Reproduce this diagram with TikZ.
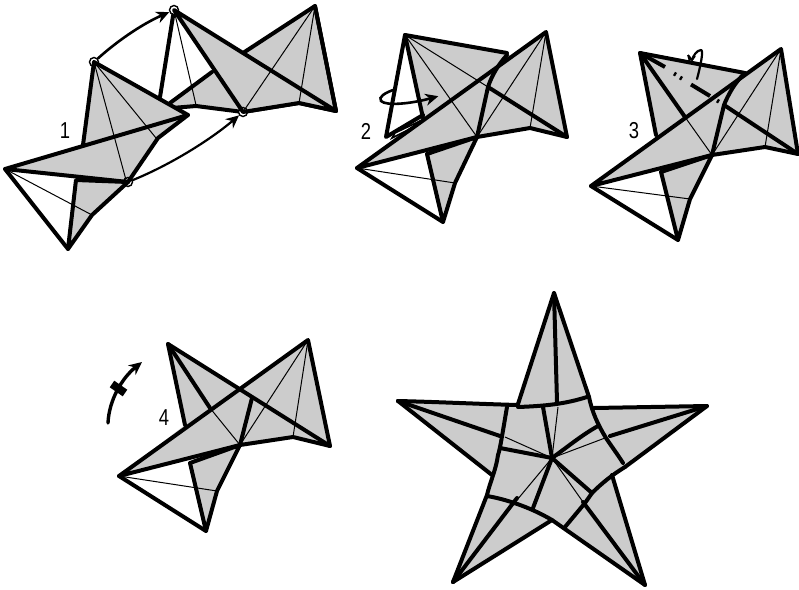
\documentclass[tikz,border=0pt]{standalone}
\usepackage{fontspec}
\setmainfont{Liberation Sans}
\usetikzlibrary{arrows.meta}
\definecolor{papergray}{HTML}{CCCCCC}
\tikzset{
 gry/.style={fill=papergray,draw=none},
 wht/.style={fill=white,draw=none},
 thk/.style={line width=4pt,line join=round,line cap=round},
 thn/.style={line width=1pt},
 mov/.style={line width=2.6pt,-{Stealth[length=13pt,width=12pt]},line cap=round},
 ring/.style={circle,draw,fill=white,line width=1.4pt,minimum size=9pt,inner sep=0pt},
 stepnum/.style={inner sep=0pt,font=\fontsize{23}{23}\selectfont,xscale=.8},
}
\begin{document}
\begin{tikzpicture}[x=1pt,y=-1pt]
\useasboundingbox (0,0) rectangle (799,589);
%% Step 1 back
\fill[gry] (170,103)--(315,6)--(336,111)--(299,103)--(243,112)--(196,106)--(172,108)--cycle;
\draw[thk] (170,103)--(212,72) (243,53)--(315,6)--(336,111)--(299,103)--(243,112)--(196,106)--(172,108);
\draw[thk] (160,97)--(174,10);
\fill[gry] (174,10)--(336,111)--(299,103)--(243,112)--cycle;
\node[ring] (a2) at (174,10) {};
\node[ring] (b2) at (243,112) {};
\draw[thn] (174,10)--(196,105) (315,6)--(243,112) (315,6)--(299,103);
\draw[thk] (336,111)--(174,10)--(243,112)--(299,103)--(336,111);
\draw[thk] (315,6)--(336,111);
%% Step 1 front
\fill[gry] (94,62)--(188,115)--(158,138)--(128,182)--(5,169)--(83,145)--cycle;
\fill[gry] (76,180)--(128,182)--(92,215)--(68,249)--cycle;
\node[ring] (a1) at (94,62) {};
\node[ring] (b1) at (128,182) {};
\draw[thn] (94,62)--(126,180) (94,62)--(156,138) (5,169)--(92,215);
\draw[thk] (83,145)--(94,62)--(188,115)--(5,169)--(128,182);
\draw[thk] (188,115)--(158,138)--(128,182)--(92,215)--(68,249)--(76,180)--(128,182);
\draw[thk] (5,169)--(68,249);
\draw[mov] (a1) .. controls (115,43) and (140,25) .. (a2);
\draw[mov,line width=2.2pt] (b1) .. controls (170,165) and (210,140) .. (b2);
\node[stepnum] (n1) at (65,131) {1};
%% Step 2
\fill[gry] (405,35)--(507,53)--(512,57)--(546,32)--(567,137)--(530,128)--(477,137)--(357,168)--(423,118)--cycle;
\fill[gry] (427,154)--(477,137)--(455,183)--(443,222)--cycle;
\draw[thn] (405,35)--(488,87) (405,35)--(477,137) (546,32)--(477,137) (546,32)--(530,128) (357,168)--(455,183);
\draw[thk] (423,118)--(405,35)--(507,53);
\draw[thk] (405,35)--(386,137)--(423,115);
\draw[line width=1.6pt,fill=white] (392,138)--(412,128)--(420,121)--(395,133)--cycle;
\draw[thk] (357,168)--(546,32)--(567,137)--(530,128)--(477,137)--(357,168);
\draw[thk] (567,137)--(488,87)--(477,137) (488,87) .. controls (492,75) and (498,65) .. (507,55);
\draw[thk] (427,154)--(477,137)--(455,183)--(443,222)--(427,154);
\draw[thk] (357,168)--(443,222);
\fill (427,153)--(477,136)--(430,151)--cycle;
\coordinate (c2s) at (393,90);
\node[inner sep=0pt] (c2e) at (439,96) {};
\draw[mov] (c2s) .. controls (385,93) and (378,97) .. (381,101) .. controls (386,106) and (410,104) .. (c2e);
\node[stepnum] (n2) at (366,131) {2};
%% Step 3
\fill[gry] (640,53)--(745,73)--(781,49)--(798,154)--(765,147)--(712,155)--(591,186)--(656,137)--cycle;
\fill[gry] (661,172)--(712,155)--(690,199)--(678,240)--cycle;
\draw[thn] (685,117)--(712,155) (781,49)--(712,155) (781,49)--(765,147) (591,186)--(690,199);
\draw[thk] (656,135)--(640,53)--(745,73);
\draw[thk] (640,53)--(685,117);
\draw[thk,line cap=butt] (640,53)--(665,67);
\draw[thk,line cap=butt] (674,73.5)--(676,74.7) (680,77.5)--(682,78.7) (691,84.5)--(710,96) (717,100.5)--(719,101.7);
\draw[thk] (591,186)--(781,49)--(798,154)--(765,147)--(712,155)--(591,186);
\draw[thk] (798,154)--(724,105)--(712,155) (724,105) .. controls (728,95) and (735,82) .. (745,73);
\draw[thk] (661,172)--(712,155)--(690,199)--(678,240)--(661,172);
\draw[thk] (591,186)--(678,240);
\fill (661,171)--(712,154)--(664,169)--cycle;
\coordinate (h1) at (697,79);
\coordinate (h2) at (692,60);
\draw[line width=2.2pt,line cap=round,line join=round] (h1) .. controls (700,68) and (704,50) .. (701,50) .. controls (697,50) and (693,56) .. (h2);
\draw[line width=1.8pt,line join=round] (688,55)--(692,60)--(695,56) (688,55)--(690,62);
\node[stepnum] (n3) at (634,131) {3};
%% Step 4
\fill[gry] (168,344)--(238,388)--(308,340)--(330,446)--(293,437)--(240,445)--(119,476)--(185,425)--cycle;
\fill[gry] (190,463)--(240,445)--(217,491)--(206,531)--cycle;
\draw[thn] (210,408)--(240,445) (308,340)--(240,445) (308,340)--(293,437) (119,476)--(217,491);
\draw[thk] (185,425)--(168,344)--(330,446);
\draw[thk] (168,344)--(210,408);
\draw[thk] (119,476)--(308,340)--(330,446)--(293,437)--(240,445)--(119,476);
\draw[thk] (252,398)--(240,445);
\draw[thk] (190,463)--(240,445)--(217,491)--(206,531)--(190,463);
\draw[thk] (119,476)--(206,531);
\fill (190,462)--(240,444)--(193,460)--cycle;
\coordinate (r4s) at (108,423);
\coordinate (r4e) at (142,362);
\draw[mov,line width=3.4pt] (r4s) .. controls (109,400) and (122,378) .. (r4e);
\draw[line width=8pt] (112,384)--(125,393);
\node[stepnum] (n4) at (164,418) {4};
%% Finished star
\fill[gry] (554,293)--(589,397)--(594,408)--(707,406)--(625,467)--(612,475)--(645,585)--(552,520)--(453,582)--(487,495)--(492,475)--(398,401)--(518,404)--cycle;
\draw[thn] (558,407)--(552,458) (505,437)--(552,458) (552,458)--(605,438) (552,458)--(583,502) (552,458)--(517,500);
\draw[thk] (518,404)--(554,293)--(589,397);
\draw[thk] (554,293)--(557,402);
\draw[thk] (518,407) .. controls (545,406) and (565,404) .. (587,397);
\draw[thk] (398,401) .. controls (440,402) and (480,404) .. (518,405);
\draw[thk] (398,401)--(492,475);
\draw[thk] (398,401)--(500,436);
\draw[thk] (507,407) .. controls (503,430) and (500,450) .. (498,455) .. controls (496,470) and (490,482) .. (487,495);
\draw[thk] (500,448)--(552,458);
\draw[thk] (543,407)--(552,458);
\draw[thk] (552,458) .. controls (570,445) and (582,435) .. (598,426);
\draw[thk] (707,406)--(610,436);
\draw[thk] (594,408)--(707,406)--(625,467);
\draw[thk] (589,397) .. controls (592,412) and (598,425) .. (606,438) .. controls (612,447) and (618,455) .. (623,463);
\draw[thk] (552,458)--(592,493);
\draw[thk] (625,467) .. controls (612,475) and (602,483) .. (592,493)--(585,503)--(565,527);
\draw[thk] (612,475)--(645,585)--(552,520)--(453,582);
\draw[thk] (645,585)--(583,502);
\draw[thk] (552,458)--(533,508);
\draw[thk] (453,582)--(517,498);
\draw[thk] (453,582)--(487,495);
\draw[thk] (487,496) .. controls (505,499) and (530,507) .. (552,520);
\end{tikzpicture}
\end{document}
